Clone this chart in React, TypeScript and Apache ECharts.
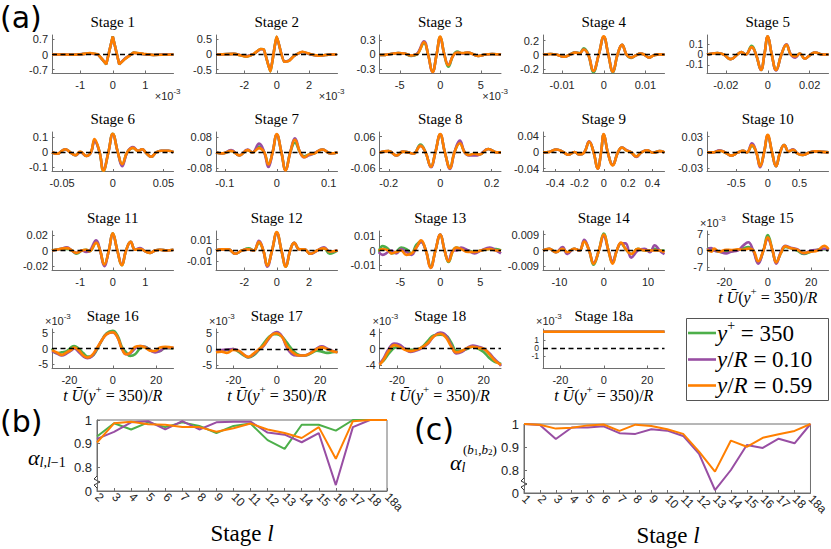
import React, { useEffect, useRef } from "react";
import * as echarts from "echarts";

// ---------------- data ----------------
const seriesNames = ["y+ = 350", "y/R = 0.10", "y/R = 0.59"];
const stageTitles = ["Stage 1","Stage 2","Stage 3","Stage 4","Stage 5","Stage 6","Stage 7","Stage 8","Stage 9","Stage 10","Stage 11","Stage 12","Stage 13","Stage 14","Stage 15","Stage 16","Stage 17","Stage 18","Stage 18a"];

// Stage 1 (t in units of 1e-3)
const s1T = [-1.87,-1.5,-1.2,-0.95,-0.7,-0.45,-0.2,0,0.2,0.38,0.64,0.95,1.25,1.55,1.87];
const s1G = [0,0,-0.01,0.02,0.06,0,-0.45,0.84,-0.45,-0.19,0.09,0.02,-0.02,0,0];
const s1P = [0,0,-0.01,0.02,0.05,0,-0.43,0.82,-0.44,-0.18,0.08,0.02,-0.02,0,0];
const s1O = [0,0,-0.01,0.02,0.07,0.01,-0.44,0.83,-0.45,-0.2,0.09,0.03,-0.02,-0.01,0];
// Stage 2 (t in units of 1e-3)
const s2T = [-3.7,-2.64,-1.9,-1.4,-1.0,-0.8,-0.4,0,0.45,0.76,1.07,1.6,2.1,2.7,3.3,3.7];
const s2G = [0,0.02,-0.07,0.02,0.18,0.17,-0.56,0.58,-0.24,-0.2,-0.05,0.08,0,-0.04,0,0];
const s2P = [0,0.02,-0.06,0.02,0.17,0.16,-0.54,0.57,-0.23,-0.2,-0.05,0.08,0,-0.04,0,0];
const s2O = [0,0.02,-0.07,0.03,0.18,0.17,-0.56,0.59,-0.24,-0.21,-0.05,0.09,0.01,-0.04,0,0];
// Stage 3 (t in units of 1e-3)
const s3T = [-7.5,-7.1,-6.1,-5.2,-4.4,-3.6,-2.9,-2.0,-1.5,-0.95,-0.45,0,0.5,1.0,1.6,2.1,2.75,3.4,4.0,4.7,5.6,6.4,7.5];
const s3G = [-0.01,-0.01,0.01,0.03,0.02,-0.03,0,0.23,0,-0.35,0,0.36,0,-0.25,-0.02,0.06,0.02,0.04,0.01,-0.03,0,0.01,0];
const s3P = [-0.01,-0.01,0.01,0.03,0.02,-0.02,0.01,0.27,0,-0.36,0,0.35,0,-0.21,-0.02,0.04,0.02,0.04,0.01,-0.03,0,0.01,0];
const s3O = [-0.01,-0.01,0.01,0.03,0.02,-0.02,0,0.25,0,-0.36,0,0.37,0,-0.22,-0.02,0.04,0.03,0.04,0.01,-0.03,0,0.01,0];
// Stage 4
const s4T = [-0.0146,-0.0128,-0.0112,-0.0096,-0.0082,-0.0068,-0.0058,-0.0048,-0.0037,-0.0025,-0.0012,0,0.0011,0.0022,0.0033,0.0044,0.0055,0.0066,0.0077,0.0088,0.0098,0.0108,0.012,0.0133,0.0146];
const s4G = [0,0.01,0,-0.03,0,0.035,0.02,0.09,0,-0.25,0,0.25,0,-0.25,0,0.14,0,-0.045,-0.01,0.015,0,-0.04,-0.01,0.005,0];
const s4P = [0,0.01,0,-0.03,0,0.03,0.02,0.075,0,-0.23,0,0.25,0,-0.24,0,0.14,0,-0.04,-0.01,0.015,0,-0.04,-0.01,0.005,0];
const s4O = [0,0.01,0,-0.03,0,0.03,0.02,0.075,0,-0.23,0,0.26,0,-0.24,0,0.14,0,-0.04,-0.01,0.015,0,-0.04,-0.01,0.005,0];
// Stage 5
const s5T = [-0.029,-0.024,-0.021,-0.0177,-0.0145,-0.0126,-0.0105,-0.0077,-0.0056,-0.0032,-0.0016,0,0.0019,0.004,0.0065,0.0089,0.011,0.0132,0.0153,0.0177,0.0205,0.0226,0.026,0.029];
const s5G = [0,0.015,0,-0.045,0,0.025,0,0.085,0,-0.15,0,0.175,0,-0.15,0,0.095,0,-0.02,0.01,-0.04,0,0.02,0,0];
const s5P = [0,0.015,0,-0.045,0,0.025,0,0.07,0,-0.15,0,0.175,0,-0.155,0,0.1,0,-0.03,0.01,-0.04,0,0.02,0,0];
const s5O = [0,0.015,0,-0.045,0,0.025,0,0.072,0,-0.15,0,0.178,0,-0.15,0,0.095,0,-0.02,0.01,-0.04,0,0.02,0,0];
// Stage 6
const s6T = [-0.06,-0.055,-0.047,-0.042,-0.037,-0.032,-0.026,-0.0215,-0.018,-0.013,-0.0093,-0.0043,0,0.005,0.0093,0.0143,0.02,0.025,0.029,0.033,0.038,0.043,0.048,0.055,0.06];
const s6G = [0,-0.01,0.02,0,-0.02,0,-0.025,0,0.08,0,-0.125,0,0.125,0,-0.085,0,0.03,0.01,0.02,-0.005,-0.03,0,0.01,0.01,0];
const s6P = [0,-0.01,0.02,0,-0.02,0,-0.025,0,0.075,0,-0.12,0,0.12,0,-0.095,0,0.035,0.01,0.02,-0.005,-0.03,0,0.01,0.01,0];
const s6O = [0,-0.01,0.02,0,-0.02,0.005,-0.025,0,0.09,0,-0.125,0,0.125,0,-0.08,0,0.03,0.01,0.02,-0.005,-0.03,0,0.01,0.01,0];
// Stage 7
const s7T = [-0.117,-0.104,-0.088,-0.072,-0.056,-0.047,-0.034,-0.024,-0.016,-0.008,0,0.009,0.017,0.026,0.035,0.045,0.053,0.062,0.072,0.088,0.104,0.117];
const s7G = [0,-0.005,0.008,-0.015,0.012,0,0.03,0,-0.06,0,0.09,0,-0.088,0,0.05,0,-0.02,-0.01,-0.005,0.015,-0.005,0];
const s7P = [0,-0.005,0.012,-0.015,0.015,0,0.045,0,-0.075,0,0.09,0,-0.09,0,0.072,0,-0.025,-0.015,-0.005,0.015,-0.005,0];
const s7O = [0,-0.005,0.008,-0.015,0.012,0,0.022,0,-0.062,0,0.094,0,-0.092,0,0.065,0,-0.025,-0.01,-0.005,0.015,-0.005,0];
// Stage 8
const s8T = [-0.236,-0.2,-0.17,-0.145,-0.124,-0.104,-0.077,-0.057,-0.036,-0.019,0,0.018,0.038,0.055,0.076,0.095,0.112,0.132,0.153,0.186,0.22,0.236];
const s8G = [0,0.005,-0.012,0.003,0,-0.005,0.03,0,-0.055,0,0.068,0,-0.058,0,0.037,0,-0.01,-0.005,-0.008,0.013,0,0];
const s8P = [0,0.005,-0.012,0.003,0,-0.005,0.025,0,-0.057,0,0.068,0,-0.063,0,0.045,0,-0.012,-0.012,-0.008,0.013,0,0];
const s8O = [0,0.005,-0.012,0.003,0,-0.005,0.025,0,-0.055,0,0.07,0,-0.06,0,0.035,0,-0.01,-0.005,-0.008,0.013,0,0];
// Stage 9
const s9T = [-0.5,-0.45,-0.39,-0.33,-0.29,-0.24,-0.2,-0.16,-0.12,-0.083,-0.05,-0.022,0,0.033,0.074,0.116,0.15,0.185,0.226,0.267,0.31,0.355,0.405,0.46,0.5];
const s9G = [0,0.001,0.007,0,-0.006,0.001,-0.005,0,0.026,0,-0.039,0,0.044,0,-0.031,0,0.012,0.005,0,-0.01,0,0.005,-0.001,0.003,0];
const s9P = [0,0.001,0.007,0,-0.006,0.001,-0.005,0,0.027,0,-0.04,0,0.044,0,-0.031,0,0.012,0.006,0,-0.011,0,0.005,-0.001,0.003,0];
const s9O = [0,0.001,0.007,0,-0.006,0.001,-0.005,0,0.026,0,-0.04,0,0.045,0,-0.032,0,0.012,0.005,0,-0.01,0,0.005,-0.001,0.003,0];
// Stage 10
const s10T = [-0.96,-0.87,-0.76,-0.66,-0.58,-0.47,-0.39,-0.33,-0.25,-0.18,-0.12,-0.058,0,0.068,0.13,0.195,0.26,0.33,0.4,0.47,0.55,0.66,0.76,0.87,0.96];
const s10G = [0,0,0.003,-0.001,-0.006,0,0.003,0,0.012,0,-0.025,0,0.032,0,-0.026,0,0.014,0.002,0.005,-0.002,-0.005,0,0.002,0.001,0];
const s10P = [0,0,0.004,-0.001,-0.006,0,0.003,0,0.017,0,-0.028,0,0.032,0,-0.026,0,0.014,0.002,0.006,-0.002,-0.005,0,0.002,0.001,0];
const s10O = [0,0,0.003,-0.001,-0.006,0,0.003,0,0.014,0,-0.026,0,0.033,0,-0.026,0,0.014,0.002,0.005,-0.002,-0.005,0,0.002,0.001,0];
// Stage 11
const s11T = [-1.87,-1.62,-1.41,-1.26,-1.12,-0.95,-0.82,-0.72,-0.51,-0.39,-0.26,-0.12,0,0.14,0.28,0.41,0.55,0.69,0.84,1.0,1.15,1.3,1.45,1.66,1.87];
const s11G = [0,0.002,0.002,0,-0.004,0,0.001,-0.001,0.01,0,-0.018,0,0.022,0,-0.019,0,0.011,0.001,0.002,-0.001,-0.003,0,0.001,0,0.001];
const s11P = [0,0.002,0.004,0,-0.003,0,-0.002,-0.001,0.013,0,-0.02,0,0.021,0,-0.018,0,0.011,0.001,0.003,-0.001,-0.003,0,0.001,0,0.001];
const s11O = [0,0.002,0.003,0,-0.003,0,0.001,-0.001,0.01,0,-0.018,0,0.022,0,-0.019,0,0.011,0.001,0.002,-0.001,-0.003,0,0.001,0,0.001];
// Stage 12
const s12T = [-3.75,-3.4,-2.98,-2.56,-2.15,-1.73,-1.42,-1.1,-0.83,-0.58,-0.29,0,0.29,0.56,0.83,1.08,1.4,1.7,2.08,2.5,2.92,3.27,3.75];
const s12G = [0,0.001,0.001,-0.003,0,0.002,0,0.007,0,-0.014,0,0.016,0,-0.015,0,0.007,0.001,0.001,-0.003,0,0.002,-0.003,0];
const s12P = [0,0.001,0.001,-0.003,0,0.001,0,0.009,0,-0.015,0,0.016,0,-0.014,0,0.007,0.001,0.001,-0.003,0,0.003,-0.001,0];
const s12O = [0,0.001,0.001,-0.003,0,0.001,0,0.008,0,-0.014,0,0.017,0,-0.015,0,0.007,0.001,0.001,-0.003,0,0.002,-0.001,0];
// Stage 13
const s13T = [-7.7,-7.2,-6.5,-6.1,-5.5,-4.9,-4.25,-3.6,-3.0,-2.4,-1.8,-1.2,-0.6,0,0.54,1.04,1.6,2.0,2.6,3.5,4.3,5.1,6.2,7.0,7.6];
const s13G = [-0.001,0.003,0.001,-0.002,-0.001,0.002,0.001,-0.002,0.004,0.006,0,-0.011,0,0.011,0,-0.008,0,0.002,0.001,0,-0.001,0,0.001,0.001,0];
const s13P = [-0.001,-0.003,-0.001,0,-0.002,0.001,-0.001,-0.003,0.002,0.006,0,-0.012,0,0.011,0,-0.007,0,0,0.002,0,-0.002,0,0.002,0,-0.002];
const s13O = [0,0.001,0,-0.002,-0.001,0,-0.003,-0.002,0.002,0.007,0,-0.012,0,0.011,0,-0.0075,0,0.002,0.001,-0.001,-0.001,0,0.001,0,0];
// Stage 14
const s14T = [-13.7,-12.3,-10.8,-9.3,-8.2,-6.7,-5.5,-4.4,-3.3,-2.3,-1.1,0,1.06,2.0,2.95,3.9,4.9,6.2,7.7,9.2,10.4,11.5,12.6,13.7];
const s14G = [0,0.001,-0.001,0.001,-0.001,0.001,0,0.005,0,-0.008,0,0.0095,0,-0.007,0,0.004,0.001,-0.002,0.001,0,0,0.001,0,0];
const s14P = [0,0.001,-0.001,0.002,-0.002,0.001,0,0.006,0,-0.007,0,0.008,0,-0.006,0,0.004,0.004,-0.004,0,0.001,-0.001,0.003,0,-0.002];
const s14O = [0,0.001,-0.001,0.001,-0.001,0.001,0,0.005,0,-0.0075,0,0.009,0,-0.0075,0,0.0045,0.001,-0.002,0.001,0,0,0,0,-0.001];
// Stage 15 (values in units of 1e-3)
const s15T = [-28,-26,-24.7,-22.3,-19.2,-16.9,-13.8,-11.4,-9,-6.7,-4.4,-2,0,2.2,3.9,6.1,8.1,10.5,13.6,16.7,19.8,23,26,28];
const s15G = [1,0.5,0,-0.5,-0.8,-0.3,0.3,0.8,1.5,0,-5,0,6.5,0,-4.8,-1,1.5,1,0,-1.5,-0.5,0.3,0.5,0];
const s15P = [0.5,1,0,-0.5,-1.2,-0.5,0,2,3.5,0,-5.5,0,4.7,0,-5.5,-0.5,2,1.2,0.5,-1.2,0,0.3,0.8,0];
const s15O = [0.5,-0.5,0.8,-0.5,0.3,0.2,0.5,0.3,0.8,0.2,-4.5,0,5.6,0,-5,-1,1.8,1,0.3,-1,-0.5,0,2,0.5];
// Stage 16 (values in units of 1e-3)
const s16T = [-28,-25.8,-23.5,-21.2,-18.9,-17.8,-15.8,-13.5,-11.7,-9.7,-7.4,-5.1,-2.8,0,2.2,4.2,6.2,8,10.3,12.6,14.9,17.2,19.5,21.8,24.2,28];
const s16G = [0,-1.5,-1.2,-0.8,0.5,0.8,0,-1.5,-2.5,-2.4,-0.5,2.5,4.8,5.5,4,0.5,-1.2,-2.3,-1.8,0,0.5,-0.5,-1,-0.8,0.2,0];
const s16P = [-0.8,-1.5,-2.2,-1.5,-0.5,0,-1,-2.5,-3,-2.5,-0.2,2.5,4.5,5,3.5,0,-1.8,-1.5,0,0.8,0.5,-0.5,-1.2,-0.8,0.2,0.2];
const s16O = [-0.5,-1.2,-2,-1.2,-0.3,0.3,-0.5,-2.2,-2.8,-2.2,0,2.5,4.5,5.1,3.5,0,-1.8,-1.3,0.5,0.8,0.3,-0.7,-0.8,0.3,0.5,0.2];
// Stage 17 (values in units of 1e-3)
const s17T = [-28,-25.4,-23,-20,-17.7,-14.6,-13.1,-10.8,-8.5,-6.2,-3.8,-1.5,0,2.3,4.6,6.9,9.2,11.5,13.8,16.2,18.5,20.8,23.1,25.4,28];
const s17G = [-0.8,-0.5,-0.3,0,-0.8,-2.2,-2.6,-2,-0.5,1.5,3.5,4.5,4.5,3.8,2,0,-1.5,-2,-1.9,-1.2,-0.5,-0.8,-1.2,-1,-0.8];
const s17P = [-0.5,-0.3,-0.2,0,-0.5,-2,-2.5,-1.7,-0.3,0.8,3,4.8,5.2,4,0.5,-1.5,-2,-2,-1.8,-0.9,0.2,0.8,0.2,-0.5,-1];
const s17O = [-1,-0.8,-1.2,-0.3,-0.5,-2,-2.4,-1.5,-0.2,1,3.2,4.6,4.8,3.8,1,-0.8,-1.8,-2,-1.8,-1,0,0.5,0,-0.6,-1];
// Stage 18 (values in units of 1e-3)
const s18T = [-28,-26.2,-23.7,-21.2,-18.8,-16.3,-13.8,-11.4,-8.9,-5.6,-3.1,0,2.6,5.1,7.5,10,12.5,15,17.5,20,22.4,24.9,27.3,28];
const s18G = [-3.5,-3,-1.2,0.2,0.5,0,-0.3,-0.2,0.2,2,3.3,3.5,3.3,1.5,-0.5,-0.5,0,0.5,0,-0.8,-2.2,-3.2,-3.6,-3.8];
const s18P = [-3.8,-2.5,0,1.3,1,0,-0.8,-0.5,0,1.3,3,4,3.3,0.8,-1.2,-0.8,0.2,0.8,0.5,0,-1,-2.5,-3.8,-4.3];
const s18O = [-4,-2.8,-0.5,0.9,0.5,-0.3,-0.6,-0.3,0.2,1.5,3,3.7,2.8,0.5,-0.9,-0.5,0.2,0.5,0.2,0,-1.2,-2.8,-3.8,-4];
// Stage 18a (values in units of 1e-3)
const s18aT = [-28, 28];
const s18aG = [1.96, 1.96];
const s18aP = [1.96, 1.96];
const s18aO = [1.96, 1.96];

const stageXLim = [[-1.87,1.87],[-3.75,3.75],[-7.5,7.5],[-0.0146,0.0146],[-0.029,0.029],[-0.06,0.06],[-0.117,0.117],[-0.236,0.236],[-0.5,0.5],[-0.96,0.96],[-1.87,1.87],[-3.75,3.75],[-7.6,7.6],[-13.7,13.7],[-28,28],[-28,28],[-28,28],[-28,28],[-28,28]];
const stageYLim = [[-0.85,0.9],[-0.61,0.64],[-0.38,0.4],[-0.26,0.28],[-0.18,0.19],[-0.13,0.137],[-0.098,0.105],[-0.073,0.078],[-0.047,0.05],[-0.036,0.0385],[-0.025,0.025],[-0.018,0.018],[-0.0135,0.0135],[-0.011,0.011],[-8.2,8.2],[-6.1,6.1],[-5.8,6.1],[-4.8,4.9],[-2.4,2.3]];
const stageXTicks = [[-1,0,1],[-2,0,2],[-5,0,5],[-0.01,0,0.01],[-0.02,0,0.02],[-0.05,0,0.05],[-0.1,0,0.1],[-0.2,0,0.2],[-0.4,-0.2,0,0.2,0.4],[-0.5,0,0.5],[-1,0,1],[-2,0,2],[-5,0,5],[-10,0,10],[-20,0,20],[-20,0,20],[-20,0,20],[-20,0,20],[-20,0,20]];
const stageYTicks = [[-0.7,0,0.7],[-0.5,0,0.5],[-0.3,0,0.3],[-0.2,0,0.2],[-0.1,0,0.1],[-0.1,0,0.1],[-0.08,0,0.08],[-0.06,0,0.06],[-0.04,0,0.04],[-0.03,0,0.03],[-0.02,0,0.02],[-0.01,0,0.01],[-0.01,0,0.01],[-0.009,0,0.009],[-7,0,7],[-5,0,5],[-5,0,5],[-4,0,4],[-1,0,1]];

// Panel (b)
const stagesB = ["2","3","4","5","6","7","8","9","10","11","12","13","14","15","16","17","18","18a"];
const alphaB_G = [0.93,0.986,0.96,0.99,0.97,0.99,0.975,0.945,0.975,0.985,0.915,0.878,0.98,0.98,0.955,1.0,1.0,1.0];
const alphaB_P = [0.92,0.95,0.99,0.995,0.96,0.995,0.96,0.99,0.993,0.993,0.947,0.938,0.906,0.945,0.725,0.97,1.0,1.0];
const alphaB_O = [0.905,0.986,0.993,0.982,0.98,0.97,0.97,0.95,0.965,0.985,0.96,0.945,0.924,0.97,0.836,0.995,1.0,1.0];
// Panel (c)
const stagesC = ["1","2","3","4","5","6","7","8","9","10","11","12","13","14","15","16","17","18","18a"];
const alphaC_P = [1.0,0.996,0.935,0.985,0.985,0.99,0.96,0.957,0.977,0.971,0.948,0.87,0.713,0.8,0.909,0.896,0.936,0.916,1.0];
const alphaC_O = [1.0,0.997,0.98,0.984,0.994,0.998,0.97,0.997,0.991,0.977,0.957,0.88,0.793,0.928,0.901,0.94,0.955,0.97,1.0];
const alphaTicks = [0.7, 0.8, 0.9, 1];

// ---------------- styling / layout ----------------
const GREEN = "#4daf4a";
const PURPLE = "#984ea3";
const ORANGE = "#ff7f00";
const COLORS = [GREEN, PURPLE, ORANGE];
const SANS = "'Liberation Sans', Arial, Helvetica, sans-serif";
const SERIF = "'Liberation Serif', 'DejaVu Serif', serif";
const PANEL = "'DejaVu Sans', 'Noto Sans', sans-serif";
const AXIS = "#6e6e6e";
const LAB = "#262626";

const COL_L = [52, 216, 379.5, 543, 707];
const COL_W = 121.5;
const ROW_T = [35, 132, 231, 329];
const ROW_H = [38, 39.5, 39, 39];

const fmt = (v: number) => String(parseFloat(Number(v).toPrecision(6)));

function buildOption() {
  const stageData = [
    [s1T, s1G, s1P, s1O], [s2T, s2G, s2P, s2O], [s3T, s3G, s3P, s3O], [s4T, s4G, s4P, s4O],
    [s5T, s5G, s5P, s5O], [s6T, s6G, s6P, s6O], [s7T, s7G, s7P, s7O], [s8T, s8G, s8P, s8O],
    [s9T, s9G, s9P, s9O], [s10T, s10G, s10P, s10O], [s11T, s11G, s11P, s11O], [s12T, s12G, s12P, s12O],
    [s13T, s13G, s13P, s13O], [s14T, s14G, s14P, s14O], [s15T, s15G, s15P, s15O], [s16T, s16G, s16P, s16O],
    [s17T, s17G, s17P, s17O], [s18T, s18G, s18P, s18O], [s18aT, s18aG, s18aP, s18aO],
  ];
  const grids: any[] = [];
  const xAxes: any[] = [];
  const yAxes: any[] = [];
  const extraY: any[] = [];
  const series: any[] = [];
  const g: any[] = [];

  const zeroLine = {
    silent: true,
    symbol: ["none", "none"],
    label: { show: false },
    lineStyle: { color: "#000", type: [5, 3.5], width: 1.3 },
    data: [{ yAxis: 0 }],
    animation: false,
  };

  const supRich = {
    n: { fontFamily: SANS, fontSize: 11, fill: LAB },
    s: { fontFamily: SANS, fontSize: 8, fill: LAB, padding: [0, 0, 9, 0] },
  };
  const xNameRich = {
    i: { fontFamily: SERIF, fontStyle: "italic", fontSize: 16, fill: "#000" },
    n: { fontFamily: SERIF, fontSize: 16, fill: "#000" },
    s: { fontFamily: SERIF, fontSize: 11, fill: "#000", padding: [0, 0, 12, 0] },
  };
  const xNameText = "{i|t }{i|Ū}{n|(}{i|y}{s|+}{n| = 350)/}{i|R}";

  stageData.forEach((d, i) => {
    const row = Math.floor(i / 5);
    const col = i % 5;
    const left = COL_L[col];
    const top = ROW_T[row];
    const h = ROW_H[row];
    grids.push({ left, top, width: COL_W, height: h });
    xAxes.push({
      type: "value",
      gridIndex: i,
      min: stageXLim[i][0],
      max: stageXLim[i][1],
      axisLine: { show: true, onZero: false, lineStyle: { color: AXIS, width: 1 } },
      axisTick: { show: true, inside: true, length: 2.5, customValues: stageXTicks[i], lineStyle: { color: AXIS } },
      axisLabel: { show: true, customValues: stageXTicks[i], formatter: fmt, showMinLabel: true, showMaxLabel: true, fontSize: 11, fontFamily: SANS, color: LAB, margin: 6 },
      splitLine: { show: false },
    });
    // tightly packed tick labels: put the "0" label on a companion axis so none gets auto-hidden
    const tight = i === 4 || i === 18;
    const yFont = i === 18 ? 8.5 : i === 4 ? 10 : 11;
    const yTicks = stageYTicks[i];
    const mainLabels = tight ? yTicks.filter((v) => v !== 0) : yTicks;
    yAxes.push({
      type: "value",
      gridIndex: i,
      min: stageYLim[i][0],
      max: stageYLim[i][1],
      axisLine: { show: true, onZero: false, lineStyle: { color: AXIS, width: 1 } },
      axisTick: { show: true, inside: true, length: 2.5, customValues: yTicks, lineStyle: { color: AXIS } },
      axisLabel: { show: true, customValues: mainLabels, formatter: fmt, showMinLabel: true, showMaxLabel: true, margin: 4, fontSize: yFont, fontFamily: SANS, color: LAB },
      splitLine: { show: false },
    });
    if (tight) {
      extraY.push({
        type: "value",
        gridIndex: i,
        position: "left",
        min: stageYLim[i][0],
        max: stageYLim[i][1],
        axisLine: { show: false },
        axisTick: { show: false },
        axisLabel: { show: true, customValues: [0], formatter: fmt, margin: 4, fontSize: yFont, fontFamily: SANS, color: LAB },
        splitLine: { show: false },
      });
    }
    const t = d[0];
    [d[1], d[2], d[3]].forEach((vals, k) => {
      series.push({
        type: "line",
        name: seriesNames[k],
        xAxisIndex: i,
        yAxisIndex: i,
        data: t.map((tt, j) => [tt, vals[j]]),
        symbol: "none",
        smooth: i === 0 ? false : i === 1 ? 0.15 : 0.45,
        lineStyle: { color: COLORS[k], width: 2.6 },
        itemStyle: { color: COLORS[k] },
        silent: true,
        markLine: k === 2 ? zeroLine : undefined,
      });
    });
    // title
    g.push({
      type: "text",
      style: { text: stageTitles[i], x: left + COL_W / 2, y: top - 13, fontFamily: SERIF, fontSize: 15, fill: "#000", align: "center", verticalAlign: "middle", textAlign: "center", textVerticalAlign: "middle" },
    });
    // exponent labels
    if (i <= 2) {
      g.push({ type: "text", style: { text: "{n|×10}{s|-3}", rich: supRich, x: left + COL_W + 7, y: top + h + 23, align: "right", verticalAlign: "middle", textAlign: "right", textVerticalAlign: "middle" } });
    } else if (i >= 14) {
      g.push({ type: "text", style: { text: "{n|×10}{s|-3}", rich: supRich, x: left - 7, y: top - 8, align: "left", verticalAlign: "middle", textAlign: "left", textVerticalAlign: "middle" } });
      g.push({ type: "text", style: { text: xNameText, rich: xNameRich, x: left + COL_W / 2, y: top + h + 27, align: "center", verticalAlign: "middle", textAlign: "center", textVerticalAlign: "middle" } });
    }
  });

  // ---- panel (b) and (c)
  const nB = grids.length;
  grids.push({ left: 97, top: 420, width: 290, height: 71, show: true, borderColor: AXIS, borderWidth: 1, backgroundColor: "transparent" });
  const nC = grids.length;
  grids.push({ left: 524, top: 424, width: 289, height: 69, show: true, borderColor: AXIS, borderWidth: 1, backgroundColor: "transparent" });
  const catAxis = (gi: number, cats: string[]) => ({
    type: "category",
    gridIndex: gi,
    data: cats,
    boundaryGap: false,
    axisLine: { show: true, lineStyle: { color: AXIS } },
    axisTick: { show: true, inside: true, length: 3, interval: 0, lineStyle: { color: AXIS } },
    axisLabel: { interval: 0, rotate: -45, fontSize: 12, fontFamily: SANS, color: LAB, margin: 4, showMinLabel: true, showMaxLabel: true },
    splitLine: { show: false },
  });
  const alphaAxis = (gi: number) => ({
    type: "value",
    gridIndex: gi,
    min: 0.7,
    max: 1,
    axisLine: { show: true, lineStyle: { color: AXIS } },
    axisTick: { show: true, inside: true, length: 3, customValues: alphaTicks, lineStyle: { color: AXIS } },
    axisLabel: {
      customValues: alphaTicks,
      showMinLabel: true,
      showMaxLabel: true,
      fontSize: 13,
      fontFamily: SANS,
      color: LAB,
      margin: 5,
      formatter: (v: number) => (Math.abs(v - 0.7) < 1e-9 ? "0" : fmt(v)),
    },
    splitLine: { show: false },
  });
  xAxes.push(catAxis(nB, stagesB));
  yAxes.push(alphaAxis(nB));
  xAxes.push(catAxis(nC, stagesC));
  yAxes.push(alphaAxis(nC));
  [alphaB_G, alphaB_P, alphaB_O].forEach((vals, k) => {
    series.push({ type: "line", name: seriesNames[k], xAxisIndex: nB, yAxisIndex: nB, data: vals, symbol: "none", lineStyle: { color: COLORS[k], width: 2 }, itemStyle: { color: COLORS[k] }, silent: true });
  });
  [alphaC_P, alphaC_O].forEach((vals, k) => {
    series.push({ type: "line", name: seriesNames[k + 1], xAxisIndex: nC, yAxisIndex: nC, data: vals, symbol: "none", lineStyle: { color: COLORS[k + 1], width: 2 }, itemStyle: { color: COLORS[k + 1] }, silent: true });
  });

  // axis-break marks
  g.push({ type: "rect", shape: { x: 93, y: 477, width: 8, height: 10 }, style: { fill: "#fff" } });
  g.push({ type: "polyline", shape: { points: [[97, 476], [94, 479], [100, 482], [94, 485], [97, 488]] }, style: { stroke: "#333", lineWidth: 1, fill: "none" } });
  g.push({ type: "rect", shape: { x: 520, y: 479, width: 8, height: 10 }, style: { fill: "#fff" } });
  g.push({ type: "polyline", shape: { points: [[524, 478], [521, 481], [527, 484], [521, 487], [524, 490]] }, style: { stroke: "#333", lineWidth: 1, fill: "none" } });

  // panel letters
  const panelStyle = { fontFamily: PANEL, fontSize: 30, fill: "#000", align: "left", verticalAlign: "middle", textAlign: "left", textVerticalAlign: "middle" };
  g.push({ type: "text", style: { ...panelStyle, text: "(a)", x: 0, y: 17 } });
  g.push({ type: "text", style: { ...panelStyle, text: "(b)", x: 0, y: 421 } });
  g.push({ type: "text", style: { ...panelStyle, text: "(c)", x: 414, y: 429 } });

  // "Stage l" labels
  const stageRich = {
    n: { fontFamily: SERIF, fontSize: 23, fill: "#000" },
    i: { fontFamily: SERIF, fontStyle: "italic", fontSize: 23, fill: "#000" },
  };
  g.push({ type: "text", style: { text: "{n|Stage }{i|l}", rich: stageRich, x: 242, y: 533, align: "center", verticalAlign: "middle", textAlign: "center", textVerticalAlign: "middle" } });
  g.push({ type: "text", style: { text: "{n|Stage }{i|l}", rich: stageRich, x: 668, y: 535, align: "center", verticalAlign: "middle", textAlign: "center", textVerticalAlign: "middle" } });

  // alpha labels
  const alphaRich = {
    a: { fontFamily: SERIF, fontStyle: "italic", fontSize: 22, fill: "#000" },
    b: { fontFamily: SERIF, fontStyle: "italic", fontSize: 14, fill: "#000", padding: [11, 0, 0, 0] },
    c: { fontFamily: SERIF, fontSize: 14, fill: "#000", padding: [11, 0, 0, 0] },
  };
  g.push({ type: "text", style: { text: "{a|α}{b|l,l}{c|−1}", rich: alphaRich, x: 28, y: 457, align: "left", verticalAlign: "middle", textAlign: "left", textVerticalAlign: "middle" } });
  g.push({ type: "text", style: { text: "{a|α}{b|l}", rich: alphaRich, x: 450, y: 462, align: "left", verticalAlign: "middle", textAlign: "left", textVerticalAlign: "middle" } });
  const supC = {
    c: { fontFamily: SERIF, fontSize: 13, fill: "#000" },
    b: { fontFamily: SERIF, fontStyle: "italic", fontSize: 13, fill: "#000" },
    d: { fontFamily: SERIF, fontSize: 9, fill: "#000", padding: [6, 0, 0, 0] },
  };
  g.push({ type: "text", style: { text: "{c|(}{b|b}{d|1}{c|,}{b|b}{d|2}{c|)}", rich: supC, x: 463, y: 449, align: "left", verticalAlign: "middle", textAlign: "left", textVerticalAlign: "middle" } });

  // legend (box, line samples, labels)
  g.push({ type: "rect", shape: { x: 686.5, y: 318.5, width: 142, height: 82 }, style: { fill: "#fff", stroke: "#555", lineWidth: 1 }, z: 5 });
  const legRich = {
    i: { fontFamily: SERIF, fontStyle: "italic", fontSize: 23, fill: "#000" },
    n: { fontFamily: SERIF, fontSize: 23, fill: "#000" },
    s: { fontFamily: SERIF, fontSize: 14, fill: "#000", padding: [0, 0, 15, 0] },
  };
  const legTexts = ["{i|y}{s|+}{n| = 350}", "{i|y}{n|/}{i|R}{n| = 0.10}", "{i|y}{n|/}{i|R}{n| = 0.59}"];
  const legY = [333, 359.5, 385.5];
  legTexts.forEach((txt, k) => {
    g.push({ type: "line", shape: { x1: 688, y1: legY[k], x2: 716, y2: legY[k] }, style: { stroke: COLORS[k], lineWidth: 2.6 }, z: 6 });
    g.push({ type: "text", style: { text: txt, rich: legRich, x: 717, y: legY[k], align: "left", verticalAlign: "middle", textAlign: "left", textVerticalAlign: "middle" }, z: 6 });
  });

  return {
    animation: false,
    backgroundColor: "#fff",
    grid: grids,
    xAxis: xAxes,
    yAxis: yAxes.concat(extraY),
    series,
    graphic: { elements: g },
  };
}

export default function App() {
  const ref = useRef<HTMLDivElement>(null);
  useEffect(() => {
    if (!ref.current) return;
    const chart = echarts.init(ref.current, null, { renderer: "svg" });
    chart.setOption(buildOption() as any);
    return () => chart.dispose();
  }, []);
  return (
    <div
      ref={ref}
      style={{ position: "absolute", left: 0, top: 0, width: 831, height: 549, background: "#fff" }}
    />
  );
}
